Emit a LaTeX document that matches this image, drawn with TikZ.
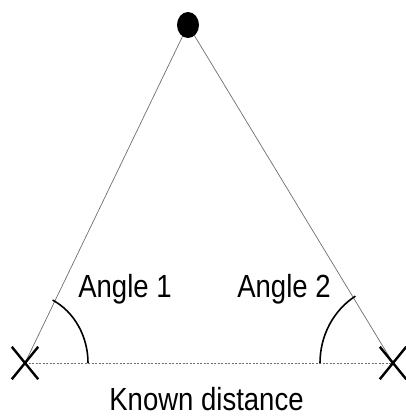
\documentclass[tikz,border=0pt]{standalone}
\usepackage{fontspec}
\setmainfont{Liberation Sans}
\usepackage{tikz}
\usetikzlibrary{shapes.misc,shapes.geometric}
\definecolor{rayline}{HTML}{6E6E6E}

\begin{document}
\begin{tikzpicture}[
  x=1pt,y=-1pt,
  every node/.style={inner sep=0pt},
  lbl/.style={font=\fontsize{32}{34}\selectfont,xscale=0.86,transform shape,anchor=base},
  station/.style={cross out,draw=black,line width=2.4pt,minimum width=24pt,minimum height=30pt},
  target/.style={ellipse,fill=black,minimum width=22pt,minimum height=26pt},
  ray/.style={draw=rayline,line width=0.7pt},
  baseline/.style={draw=rayline,line width=0.8pt,dash pattern=on 2pt off 1.5pt},
  anglearc/.style={draw=black,line width=1.6pt}
]
\useasboundingbox (0,0) rectangle (406,416);
\coordinate (stL) at (25,363);
\coordinate (stR) at (393,363);
\coordinate (obj) at (188,25);
% rays and known baseline
\draw[ray] (stL) -- (obj);
\draw[ray] (stR) -- (obj);
\draw[baseline] (stL) -- (stR);
% angle arcs
\draw[anglearc] (stL) ++(63,0) arc[start angle=0,end angle=64,x radius=63,y radius=-70];
\draw[anglearc] (stR) ++(-73,0) arc[start angle=180,end angle=121,x radius=73,y radius=-78];
% markers
\node[target] (dot) at (obj) {};
\node[station] (left) at (stL) {};
\node[station] (right) at (stR) {};
% labels
\node[lbl] (ang1) at (125,297) {Angle 1};
\node[lbl] (ang2) at (284,297) {Angle 2};
\node[lbl] (dist) at (206.5,410) {Known distance};
\end{tikzpicture}
\end{document}
